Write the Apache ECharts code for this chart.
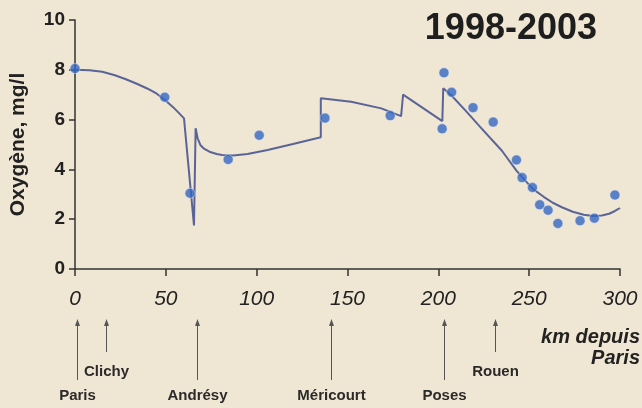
<!DOCTYPE html>
<html>
<head>
<meta charset="utf-8">
<script src="https://cdn.jsdelivr.net/npm/echarts@6/dist/echarts.min.js"></script>
<style>
  html, body { margin: 0; padding: 0; background: #efe6d3; }
  #main { width: 642px; height: 408px; }
</style>
</head>
<body>
<div id="main"></div>
<script>
// measured dissolved oxygen (km from Paris, mg/l)
var obsKm = [0, 49.4, 63.3, 84.3, 101.4, 137.6, 173.5, 202.1, 203.1, 207.3, 219.1, 230.2,
             243, 246.1, 251.8, 255.8, 260.4, 265.8, 278, 285.9, 297.2];
var obsO2 = [8.05, 6.9, 3.04, 4.4, 5.37, 6.06, 6.16, 5.63, 7.88, 7.1, 6.48, 5.9,
             4.38, 3.67, 3.27, 2.58, 2.36, 1.83, 1.94, 2.04, 2.97];

// model curve
var modelKm = [0, 8, 15, 22, 28, 34, 40, 45, 50, 54, 57, 60, 65.5, 66.4, 67.5, 69, 71, 74, 78,
               81, 87, 95, 106, 120, 135.3,
               135.3, 152, 168.6, 179.5, 180.6, 202.2, 202.7, 207, 215, 223, 235, 243, 246,
               252, 258, 263, 268, 274, 280, 285, 290, 294, 297, 300];
var modelO2 = [8.0, 7.98, 7.92, 7.78, 7.62, 7.44, 7.24, 7.04, 6.76, 6.5, 6.28, 6.05, 1.75, 5.65,
               5.25, 4.98, 4.83, 4.71, 4.62, 4.58, 4.56, 4.62, 4.78, 5.02, 5.29,
               6.86, 6.72, 6.45, 6.14, 7.0, 5.94, 7.26, 6.99, 6.36, 5.71, 4.75, 3.95, 3.7,
               3.22, 2.9, 2.66, 2.48, 2.3, 2.18, 2.13, 2.15, 2.22, 2.32, 2.45];

var xTicks = [0, 50, 100, 150, 200, 250, 300];
var yTicks = [0, 2, 4, 6, 8, 10];

var towns = ['Paris', 'Clichy', 'Andrésy', 'Méricourt', 'Poses', 'Rouen'];
var townKm = [1, 17, 67, 141, 203, 231];
var townShort = [false, true, false, false, false, true];

var chart = echarts.init(document.getElementById('main'));
var font = '"Liberation Sans", Arial, Helvetica, sans-serif';

function pairs(xs, ys) {
    return xs.map(function (x, i) { return [x, ys[i]]; });
}

var option = {
    backgroundColor: '#efe6d3',
    animation: false,
    title: {
        text: '1998-2003',
        right: 40,
        top: 6,
        textStyle: { fontFamily: font, fontSize: 36, fontWeight: 'bold', color: '#1e1e1e' }
    },
    grid: { left: 72, right: 22, top: 20, bottom: 139 },
    xAxis: {
        type: 'value',
        min: xTicks[0],
        max: xTicks[xTicks.length - 1],
        interval: 50,
        splitLine: { show: false },
        axisLine: { lineStyle: { color: '#333', width: 1.5 } },
        axisTick: { length: 7, lineStyle: { color: '#333', width: 1.5 } },
        axisLabel: {
            margin: 20,
            fontFamily: font, fontSize: 21, fontStyle: 'italic', color: '#222'
        }
    },
    yAxis: {
        type: 'value',
        min: yTicks[0],
        max: yTicks[yTicks.length - 1],
        interval: 2,
        name: 'Oxygène, mg/l',
        nameLocation: 'middle',
        nameRotate: 90,
        nameGap: 46,
        nameTextStyle: { fontFamily: font, fontSize: 21, fontWeight: 'bold', color: '#222' },
        splitLine: { show: false },
        axisLine: { show: true, lineStyle: { color: '#333', width: 1.5 } },
        axisTick: { show: true, length: 6, lineStyle: { color: '#333', width: 1.5 } },
        axisLabel: {
            margin: 10,
            fontFamily: font, fontSize: 19, fontWeight: 'bold', color: '#222'
        }
    },
    series: [
        {
            type: 'line',
            data: pairs(modelKm, modelO2),
            showSymbol: false,
            lineStyle: { color: '#5a6496', width: 2 },
            z: 2
        },
        {
            type: 'scatter',
            data: pairs(obsKm, obsO2),
            symbolSize: 10,
            itemStyle: { color: '#3568c2', borderColor: 'rgba(230,235,250,0.6)', borderWidth: 1 },
            z: 3
        }
    ]
};
chart.setOption(option);

// town arrows under the axis
var gfx = [];
towns.forEach(function (name, i) {
    var x = Math.round(chart.convertToPixel({ xAxisIndex: 0 }, townKm[i])) + 0.5;
    var top = 319;
    var bottom = townShort[i] ? 352 : 380;
    gfx.push({
        type: 'line',
        shape: { x1: x, y1: top + 4, x2: x, y2: bottom },
        style: { stroke: '#555', lineWidth: 1 }
    });
    gfx.push({
        type: 'polygon',
        shape: { points: [[x, top], [x - 2.5, top + 7], [x + 2.5, top + 7]] },
        style: { fill: '#555' }
    });
    gfx.push({
        type: 'text',
        x: x,
        y: townShort[i] ? 372 : 396,
        style: {
            text: name, fontFamily: font, fontSize: 15, fontWeight: 'bold',
            fill: '#2a2a2a', align: 'center', verticalAlign: 'middle'
        }
    });
});
gfx.push({
    type: 'text',
    right: 2,
    top: 327,
    style: {
        text: 'km depuis', fontFamily: font, fontSize: 20, fontWeight: 'bold',
        fontStyle: 'italic', fill: '#222'
    }
});
gfx.push({
    type: 'text',
    right: 2,
    top: 348,
    style: {
        text: 'Paris', fontFamily: font, fontSize: 20, fontWeight: 'bold',
        fontStyle: 'italic', fill: '#222'
    }
});
chart.setOption({ graphic: gfx });

window.addEventListener('resize', function () { chart.resize(); });
</script>
</body>
</html>
